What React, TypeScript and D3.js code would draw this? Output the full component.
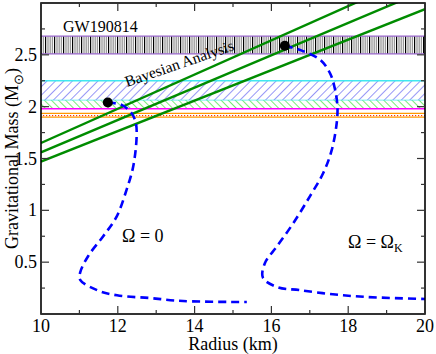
import React from 'react';
import * as d3 from 'd3';

// mass-radius curves (R in km, M in solar masses)
const radiusStatic = [11.74, 12.1, 12.36, 12.47, 12.49, 12.4, 12.23, 11.97, 11.62, 11.23, 11.02, 11.02, 11.46, 11.98, 12.84, 13.7, 15.36];
const massStatic = [2.04, 2.017, 1.937, 1.84, 1.71, 1.42, 1.2, 0.94, 0.75, 0.56, 0.4, 0.33, 0.23, 0.18, 0.154, 0.125, 0.116];
const radiusKepler = [16.35, 16.74, 17.27, 17.53, 17.66, 17.72, 17.7, 17.57, 17.35, 17.01, 16.57, 16.14, 15.83, 15.78, 16.15, 16.74, 17.6, 18.49, 20.0];
const massKepler = [2.587, 2.548, 2.452, 2.32, 2.16, 2.0, 1.84, 1.58, 1.36, 1.14, 0.876, 0.65, 0.49, 0.35, 0.26, 0.23, 0.19, 0.164, 0.145];

// maximum-mass points
const maxRadius = [11.74, 16.35];
const maxMass = [2.04, 2.587];

// Bayesian analysis lines M = k R
const bayesSlopes = [0.165, 0.156, 0.147];

// observational bands [low, high]
const gwBand = [2.51, 2.68];
const j0740Band = [2.06, 2.25];
const j0348Band = [1.98, 2.06];
const j1614Band = [1.9, 1.935];

const xTicks = [10, 12, 14, 16, 18, 20];
const yTicks = [0.5, 1, 1.5, 2, 2.5];

const W = 436;
const H = 354;
const m = { left: 41, right: 425, top: 3, bottom: 314 };
const font = 'Liberation Serif';

const App = () => {
  const x = d3.scaleLinear().domain([10, 20]).range([m.left, m.right]);
  const y = d3.scaleLinear().domain([0, 3]).range([m.bottom, m.top]);

  const line = d3
    .line<[number, number]>()
    .x(d => x(d[0]))
    .y(d => y(d[1]))
    .curve(d3.curveCatmullRom.alpha(0.5));

  const staticPts = radiusStatic.map((r, i) => [r, massStatic[i]] as [number, number]);
  const keplerPts = radiusKepler.map((r, i) => [r, massKepler[i]] as [number, number]);

  const xMinor = d3.range(10, 21, 1);
  const yMinor = d3.range(0, 3.01, 0.25);

  const band = (b: number[], fill: string, top: string | null, bottom: string | null, key: string) => (
    <g key={key}>
      <rect x={m.left} width={m.right - m.left} y={y(b[1])} height={y(b[0]) - y(b[1])} fill={fill} />
      {top && <line x1={m.left} x2={m.right} y1={y(b[1])} y2={y(b[1])} stroke={top} strokeWidth={1.3} />}
      {bottom && <line x1={m.left} x2={m.right} y1={y(b[0])} y2={y(b[0])} stroke={bottom} strokeWidth={1.3} />}
    </g>
  );

  return (
    <svg width={W} height={H} style={{ position: 'absolute', left: 0, top: 0, fontFamily: font }}>
      <defs>
        <clipPath id="plot">
          <rect x={m.left} y={m.top} width={m.right - m.left} height={m.bottom - m.top} />
        </clipPath>
        <pattern id="gw" width={9} height={4} patternUnits="userSpaceOnUse">
          <rect width={9} height={4} fill="#fff" />
          <line x1={0.6} x2={0.6} y1={0} y2={4} stroke="#000" strokeWidth={1.2} />
          <line x1={3} x2={3} y1={0} y2={4} stroke="#999" strokeWidth={1.3} />
          <line x1={5.2} x2={5.2} y1={0} y2={4} stroke="#999" strokeWidth={1.3} />
          <line x1={7.4} x2={7.4} y1={0} y2={4} stroke="#999" strokeWidth={1.3} />
        </pattern>
        <pattern id="blue" width={6} height={6} patternUnits="userSpaceOnUse" patternTransform="rotate(45)">
          <rect width={6} height={6} fill="#fff" />
          <line x1={0} x2={0} y1={0} y2={6} stroke="#5050f0" strokeWidth={1.2} />
        </pattern>
        <pattern id="green" width={5} height={5} patternUnits="userSpaceOnUse" patternTransform="rotate(-45)">
          <rect width={5} height={5} fill="#fff" />
          <line x1={0} x2={0} y1={0} y2={5} stroke="#30e030" strokeWidth={1.3} />
        </pattern>
        <pattern id="orange" width={3} height={3} patternUnits="userSpaceOnUse">
          <rect width={3} height={3} fill="#fff" />
          <rect x={1} y={1} width={1.2} height={1.2} fill="#ff3010" />
        </pattern>
      </defs>

      <g clipPath="url(#plot)">
        {band(gwBand, 'url(#gw)', '#9966cc', '#9966cc', 'gw')}
        {band(j0740Band, 'url(#blue)', '#40e8f0', '#40e8f0', 'j0740')}
        {band(j0348Band, 'url(#green)', null, '#ff00ff', 'j0348')}
        {band(j1614Band, 'url(#orange)', '#ff9900', '#ff9900', 'j1614')}

        {bayesSlopes.map((k, i) => (
          <line key={i} x1={x(10)} y1={y(k * 10)} x2={x(20)} y2={y(k * 20)} stroke="#008c00" strokeWidth={2.4} />
        ))}

        <path d={line(staticPts) ?? ''} fill="none" stroke="#0000ff" strokeWidth={2.6} strokeDasharray="8 5" />
        <path d={line(keplerPts) ?? ''} fill="none" stroke="#0000ff" strokeWidth={2.6} strokeDasharray="8 5" />

        {maxRadius.map((r, i) => (
          <circle key={i} cx={x(r)} cy={y(maxMass[i])} r={5} fill="#000" />
        ))}
      </g>

      {/* frame and ticks */}
      <rect x={m.left} y={m.top} width={m.right - m.left} height={m.bottom - m.top} fill="none" stroke="#000" strokeWidth={1.6} />
      {xMinor.map(v => {
        const len = v % 2 === 0 ? 8 : 4;
        return (
          <g key={'x' + v} stroke="#333" strokeWidth={1.2}>
            <line x1={x(v)} x2={x(v)} y1={m.bottom} y2={m.bottom - len} />
            <line x1={x(v)} x2={x(v)} y1={m.top} y2={m.top + len} />
          </g>
        );
      })}
      {yMinor.map(v => {
        const len = Math.abs(v * 2 - Math.round(v * 2)) < 1e-6 ? 8 : 4;
        return (
          <g key={'y' + v} stroke="#333" strokeWidth={1.2}>
            <line x1={m.left} x2={m.left + len} y1={y(v)} y2={y(v)} />
            <line x1={m.right} x2={m.right - len} y1={y(v)} y2={y(v)} />
          </g>
        );
      })}

      <g fontFamily={font} fontSize={18} fill="#000">
        {xTicks.map(v => (
          <text key={v} x={x(v)} y={332} textAnchor="middle">{v}</text>
        ))}
        {yTicks.map(v => (
          <text key={v} x={37} y={y(v)} textAnchor="end" dominantBaseline="central">{v}</text>
        ))}
      </g>

      <text x={(m.left + m.right) / 2} y={350} textAnchor="middle" fontFamily={font} fontSize={18}>Radius (km)</text>
      <text
        transform={`translate(18 ${(m.top + m.bottom) / 2}) rotate(-90)`}
        textAnchor="middle"
        fontFamily={font}
        fontSize={18}
      >
        Gravitational Mass (M<tspan fontSize={13} dy={5}>⊙</tspan><tspan dy={-5}>)</tspan>
      </text>

      <text x={63} y={32} fontFamily={font} fontSize={16}>GW190814</text>
      <text transform="translate(127 87) rotate(-19)" fontFamily={font} fontSize={15.5}>Bayesian Analysis</text>
      <text x={122} y={242} fontFamily={font} fontSize={18}>Ω = 0</text>
      <text x={348} y={248} fontFamily={font} fontSize={18}>
        Ω = Ω<tspan fontSize={12} dy={4}>K</tspan>
      </text>
    </svg>
  );
};

export default App;
